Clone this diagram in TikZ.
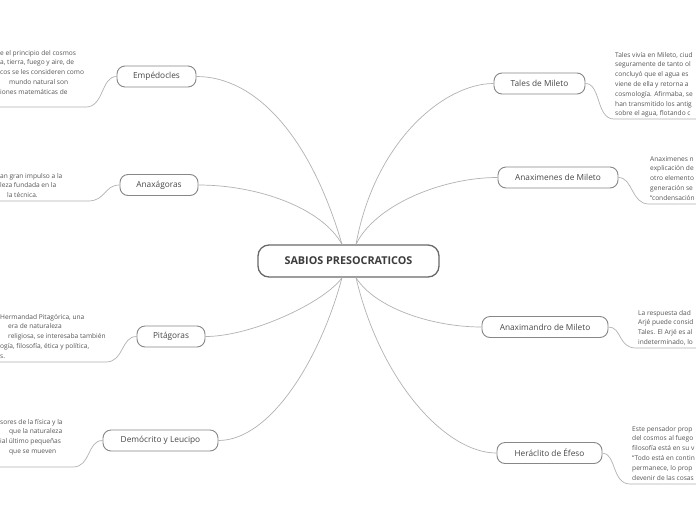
\documentclass[tikz,border=0pt]{standalone}
\usepackage{fontspec}
\setmainfont{Open Sans}
\definecolor{connc}{RGB}{178,178,178}
\definecolor{topicb}{RGB}{135,135,135}
\definecolor{topict}{RGB}{70,70,70}
\definecolor{centb}{RGB}{105,105,105}
\definecolor{centt}{RGB}{60,60,60}
\definecolor{notet}{RGB}{85,85,85}
\newcommand{\ind}[1]{\hspace*{#1}}
\newcommand{\notetext}[1]{\begin{tabular}{@{}l@{}}#1\end{tabular}}
\begin{document}
\begin{tikzpicture}[x=1pt,y=-1pt,
  conn/.style={draw=connc, line width=0.7pt},
  topic/.style={draw=topicb, line width=0.9pt, rounded corners=8pt, minimum height=21pt, inner sep=0pt, font=\fontsize{8.3}{10}\selectfont, text=topict, fill=white},
  central/.style={draw=centb, line width=1.3pt, rounded corners=11pt, minimum width=181pt, minimum height=32pt, inner sep=0pt, font=\bfseries\fontsize{10.8}{13}\selectfont, text=centt, fill=white},
  note/.style={inner sep=0pt, font=\fontsize{6.6}{9.8}\selectfont, text=notet}
]
\useasboundingbox (0,0) rectangle (696,520);
\clip (0,0) rectangle (696,520);
\fill[white] (0,0) rectangle (696,520);

% central and topics
\node[central] (c) at (348.5,261) {SABIOS PRESOCRATICOS};
\coordinate (ctl) at ([xshift=-6.5pt]c.north);
\coordinate (ctr) at ([xshift=7.5pt]c.north);
\coordinate (cbl) at ([xshift=-6.5pt]c.south);
\coordinate (cbr) at ([xshift=7.5pt]c.south);

\node[topic, minimum width=79pt] (emp) at (156.5,76.5) {Empédocles};
\node[topic, minimum width=78pt] (anx) at (159,185) {Anaxágoras};
\node[topic, minimum width=68pt] (pit) at (171,336.5) {Pitágoras};
\node[topic, minimum width=115pt] (dem) at (160.5,440.5) {Demócrito y Leucipo};
\node[topic, minimum width=91pt] (tal) at (539.5,83.5) {Tales de Mileto};
\node[topic, minimum width=120pt] (axm) at (558,177.5) {Anaximenes de Mileto};
\node[topic, minimum width=126pt] (axd) at (545,327) {Anaximandro de Mileto};
\node[topic, minimum width=105pt] (her) at (549.5,453) {Heráclito de Éfeso};

% main connectors
\draw[conn] (ctl) .. controls (310,135) and (255,76.5) .. (emp.east);
\draw[conn] (ctl) .. controls (322,208) and (258,185) .. (anx.east);
\draw[conn] (cbl) .. controls (325,302) and (252,336.5) .. (pit.east);
\draw[conn] (cbl) .. controls (320,360) and (270,440.5) .. (dem.east);
\draw[conn] (ctr) .. controls (375,140) and (445,83.5) .. (tal.west);
\draw[conn] (ctr) .. controls (375,205) and (442,177.5) .. (axm.west);
\draw[conn] (cbr) .. controls (375,308) and (432,327) .. (axd.west);
\draw[conn] (cbr) .. controls (380,380) and (445,453) .. (her.west);

% notes
\node[note, anchor=north west] (empn) at (0,48) {\notetext{e el principio del cosmos\\a, tierra, fuego y aire, de\\cos se les consideren como\\\ind{9pt}mundo natural son\\iones matemáticas de}};
\node[note, anchor=north west] (anxn) at (0,171) {\notetext{an gran impulso a la\\leza fundada en la\\\ind{7pt}la técnica.}};
\node[note, anchor=north west] (pitn) at (0,312) {\notetext{Hermandad Pitagórica, una\\\ind{8pt}era de naturaleza\\\ind{8pt}religiosa, se interesaba también\\ogía, filosofía, ética y política,\\s.}};
\node[note, anchor=north west] (demn) at (0,417) {\notetext{sores de la física y la\\\ind{9pt}que la naturaleza\\ial último pequeñas\\\ind{9pt}que se mueven}};
\node[note, anchor=north west] (taln) at (615,50) {\notetext{Tales vivía en Mileto, ciud\\seguramente de tanto ol\\concluyó que el agua es\\viene de ella y retorna a\\cosmología. Afirmaba, se\\han transmitido los antig\\sobre el agua, flotando c}};
\node[note, anchor=north west] (axmn) at (650,154) {\notetext{Anaximenes n\\explicación de\\otro elemento\\generación se\\“condensación}};
\node[note, anchor=north west] (axdn) at (638,308) {\notetext{La respuesta dad\\Arjé puede consid\\Tales. El Arjé es al\\indeterminado, lo}};
\node[note, anchor=north west] (hern) at (632,424) {\notetext{Este pensador prop\\del cosmos al fuego\\filosofía está en su v\\“Todo está en contin\\permanece, lo prop\\devenir de las cosas}};

% note connectors and bottom lines
\coordinate (empb) at (86,107);
\coordinate (anxb) at (88,201);
\coordinate (pitb) at (106,362);
\coordinate (demb) at (73,467);
\coordinate (talb) at (614,119);
\coordinate (axmb) at (649,204);
\coordinate (axdb) at (636,348);
\coordinate (herb) at (630,484);
\draw[conn] (emp.west) .. controls (101,76.5) and (104,107) .. (empb) -- (0,107);
\draw[conn] (anx.west) .. controls (104,185) and (106,201) .. (anxb) -- (0,201);
\draw[conn] (pit.west) .. controls (121,336.5) and (124,362) .. (pitb) -- (0,362);
\draw[conn] (dem.west) .. controls (87,440.5) and (91,467) .. (demb) -- (0,467);
\draw[conn] (tal.east) .. controls (601,83.5) and (596,119) .. (talb) -- (696,119);
\draw[conn] (axm.east) .. controls (633,177.5) and (631,204) .. (axmb) -- (696,204);
\draw[conn] (axd.east) .. controls (622,327) and (618,348) .. (axdb) -- (696,348);
\draw[conn] (her.east) .. controls (616,453) and (612,484) .. (herb) -- (696,484);
\end{tikzpicture}
\end{document}
